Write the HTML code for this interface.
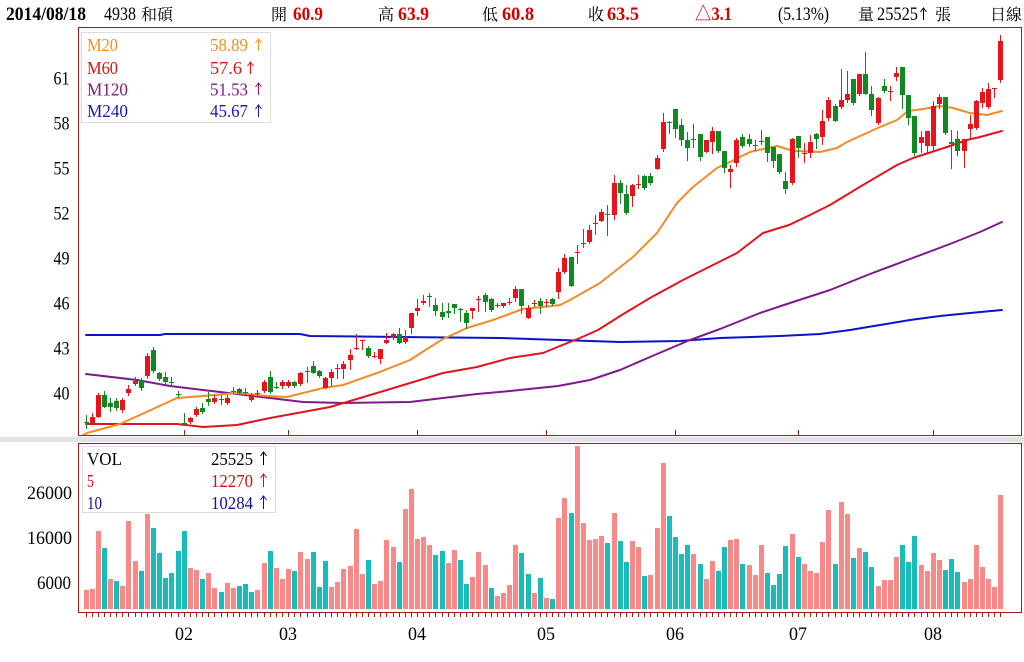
<!DOCTYPE html>
<html>
<head>
<meta charset="utf-8">
<style>
html,body{margin:0;padding:0;background:#fff;width:1024px;height:662px;overflow:hidden;}
svg{display:block;}
</style>
</head>
<body>
<svg width="1024" height="662" viewBox="0 0 1024 662" xmlns="http://www.w3.org/2000/svg" font-family="'Liberation Serif','Noto Serif CJK SC',serif">
<rect width="1024" height="662" fill="#fff"/>
<rect x="0" y="437" width="1024" height="5" fill="#e2e2e2"/>
<defs><clipPath id="cp"><rect x="79" y="28" width="942" height="407"/></clipPath></defs>

<!-- moving averages -->
<g clip-path="url(#cp)" fill="none" stroke-width="2" stroke-linejoin="round" stroke-linecap="round">
<polyline stroke="#0a14c8" points="86,335 160,335 165,334 300,334 310,336 400,337 500,338 560,340 620,342 680,341 720,338 780,336 820,334 850,330 880,325 910,320 940,316 970,313 1002,310"/>
<polyline stroke="#7d1a8c" points="86,374 137,380 170,386 203,390 237,394 270,398 303,402 343,403 410,402 443,398 477,394 510,391 558,386 590,380 620,370 650,357 690,340 720,329 760,313 790,303 830,290 870,274 910,259 950,244 980,232 1002,222"/>
<polyline stroke="#e0141e" points="86,424 177,424 203,427 237,425 270,418 303,412 330,407 377,393 410,383 443,373 477,367 510,358 543,353 560,346 580,338 598,330 625,313 650,298 683,280 717,263 737,253 763,233 789,225 810,215 830,205 863,185 897,165 913,158 947,147 967,140 980,137 1002,131"/>
<polyline stroke="#f08c28" points="78,438 87,433 120,424 153,409 177,398 203,396 237,393 267,396 287,397 303,393 323,388 343,385 377,373 410,360 427,349 443,339 467,328 493,320 523,309 543,307 560,305 570,300 600,283 633,257 657,233 677,203 693,187 717,168 730,162 750,152 777,146 790,150 797,151 820,152 837,148 847,142 880,127 897,120 908,111 923,109 940,106 953,108 970,113 987,115 1002,111"/>
</g>

<!-- candles: red -->
<g clip-path="url(#cp)">
<path fill="none" stroke="#e8141c" stroke-width="1" d="M92.5 413V425M98.5 393V418M122.5 398V413M128.5 385V396M135.5 377V386M147.5 353V379M190.5 417V424M196.5 407V417M214.5 395V404M227.5 395V405M251.5 393V402M257.5 390V396M264.5 380V393M282.5 380V389M288.5 380V388M300.5 372V386M307.5 367V383M325.5 377V389M331.5 369V386M337.5 364V379M343.5 361V379M350.5 349V370M356.5 334V350M362.5 340V350M374.5 352V358M380.5 349V364M386.5 333V344M393.5 333V340M405.5 330V344M411.5 313V334M417.5 299V316M423.5 295V305M472.5 308V319M478.5 296V312M497.5 303V308M503.5 303V308M509.5 298V305M515.5 286V302M528.5 305V319M534.5 300V307M546.5 299V307M558.5 268V299M564.5 254V274M577.5 245V264M589.5 225V244M595.5 215V235M601.5 209V222M614.5 175V220M632.5 184V207M638.5 175V189M657.5 155V170M663.5 113V152M693.5 124V148M706.5 140V153M712.5 127V154M730.5 165V188M736.5 138V167M792.5 138V185M804.5 143V163M810.5 135V158M822.5 110V145M828.5 97V121M841.5 69V109M847.5 71V103M859.5 74V96M878.5 97V125M890.5 86V101M896.5 67V81M921.5 131V153M927.5 131V153M933.5 101V151M939.5 94V109M964.5 139V168M970.5 115V139M976.5 100V130M982.5 88V108M988.5 83V109M994.5 88V98M1000.5 35V83"/>
<path fill="#e8141c" d="M90 417h5v7h-5zM96 395h5v22h-5zM120 400h5v10h-5zM126 389h5v4h-5zM133 381h5v3h-5zM145 356h5v20h-5zM188 418h5v4h-5zM194 409h5v6h-5zM212 398h5v4h-5zM225 398h5v5h-5zM249 395h5v5h-5zM255 393h5v1h-5zM262 382h5v9h-5zM280 382h5v4h-5zM286 382h5v4h-5zM298 373h5v11h-5zM305 371h5v1h-5zM323 378h5v10h-5zM329 372h5v6h-5zM335 368h5v1h-5zM341 364h5v5h-5zM348 355h5v5h-5zM354 348h5v1h-5zM360 340h5v1h-5zM372 356h5v1h-5zM378 349h5v10h-5zM384 340h5v3h-5zM391 334h5v4h-5zM403 337h5v5h-5zM409 313h5v15h-5zM415 308h5v3h-5zM421 301h5v2h-5zM470 308h5v3h-5zM476 299h5v1h-5zM495 305h5v1h-5zM501 303h5v3h-5zM507 302h5v1h-5zM513 289h5v9h-5zM526 308h5v10h-5zM532 303h5v1h-5zM544 302h5v1h-5zM556 272h5v20h-5zM562 258h5v14h-5zM575 252h5v1h-5zM587 230h5v12h-5zM593 223h5v1h-5zM599 212h5v9h-5zM612 183h5v32h-5zM630 185h5v11h-5zM636 184h5v1h-5zM655 158h5v11h-5zM661 122h5v27h-5zM691 139h5v1h-5zM704 140h5v12h-5zM710 131h5v11h-5zM728 169h5v3h-5zM734 140h5v23h-5zM790 139h5v44h-5zM802 153h5v1h-5zM808 142h5v11h-5zM820 121h5v16h-5zM826 100h5v18h-5zM839 100h5v7h-5zM845 94h5v6h-5zM857 74h5v20h-5zM876 98h5v25h-5zM888 91h5v1h-5zM894 73h5v4h-5zM919 137h5v6h-5zM925 131h5v15h-5zM931 106h5v40h-5zM937 97h5v7h-5zM962 139h5v12h-5zM968 124h5v5h-5zM974 101h5v27h-5zM980 92h5v11h-5zM986 89h5v18h-5zM992 88h5v1h-5zM998 41h5v39h-5z"/>
<!-- candles: green -->
<path fill="none" stroke="#108a20" stroke-width="1" d="M86.5 415V429M104.5 391V408M110.5 398V412M116.5 398V411M141.5 378V391M153.5 347V373M159.5 372V381M165.5 372V384M171.5 377V386M178.5 391V398M184.5 413V426M202.5 403V414M208.5 392V406M221.5 395V405M233.5 387V394M239.5 388V395M245.5 388V396M270.5 371V394M276.5 382V389M294.5 381V388M313.5 361V374M319.5 370V378M368.5 346V358M399.5 328V344M429.5 293V307M435.5 298V316M442.5 303V320M448.5 303V318M454.5 304V314M460.5 308V322M466.5 310V329M485.5 293V312M491.5 298V312M521.5 289V314M540.5 298V314M552.5 298V306M571.5 257V287M583.5 229V248M607.5 205V236M620.5 180V204M626.5 185V215M644.5 175V190M650.5 173V185M669.5 121V134M675.5 109V138M681.5 119V146M687.5 132V161M700.5 134V161M718.5 131V153M724.5 151V173M742.5 134V148M749.5 134V147M755.5 140V151M761.5 130V145M767.5 137V162M773.5 147V168M779.5 154V174M785.5 172V194M798.5 136V158M816.5 133V149M835.5 104V122M853.5 79V105M865.5 52V95M871.5 86V116M884.5 79V93M902.5 67V109M908.5 95V125M914.5 116V156M945.5 97V135M951.5 130V169M957.5 131V156"/>
<path fill="#108a20" d="M84 422h5v1h-5zM102 395h5v12h-5zM108 403h5v4h-5zM114 401h5v7h-5zM139 380h5v8h-5zM151 350h5v21h-5zM157 373h5v6h-5zM163 377h5v5h-5zM169 382h5v1h-5zM176 394h5v1h-5zM182 423h5v1h-5zM200 408h5v4h-5zM206 399h5v3h-5zM219 399h5v1h-5zM231 391h5v1h-5zM237 389h5v4h-5zM243 392h5v1h-5zM268 377h5v15h-5zM274 387h5v1h-5zM292 382h5v4h-5zM311 366h5v7h-5zM317 371h5v5h-5zM366 348h5v8h-5zM397 334h5v9h-5zM427 296h5v1h-5zM433 305h5v6h-5zM440 312h5v5h-5zM446 311h5v2h-5zM452 304h5v4h-5zM458 309h5v1h-5zM464 313h5v10h-5zM483 295h5v7h-5zM489 299h5v11h-5zM519 289h5v17h-5zM538 301h5v5h-5zM550 299h5v5h-5zM569 257h5v29h-5zM581 243h5v1h-5zM605 214h5v1h-5zM618 183h5v10h-5zM624 194h5v19h-5zM642 176h5v12h-5zM648 176h5v7h-5zM667 122h5v1h-5zM673 109h5v20h-5zM679 125h5v15h-5zM685 140h5v8h-5zM698 134h5v23h-5zM716 131h5v20h-5zM722 151h5v17h-5zM740 137h5v9h-5zM747 139h5v5h-5zM753 145h5v1h-5zM759 141h5v1h-5zM765 137h5v16h-5zM771 147h5v14h-5zM777 154h5v18h-5zM783 181h5v8h-5zM796 136h5v12h-5zM814 134h5v5h-5zM833 106h5v15h-5zM851 79h5v24h-5zM863 74h5v20h-5zM869 94h5v16h-5zM882 86h5v5h-5zM900 67h5v28h-5zM906 95h5v23h-5zM912 116h5v37h-5zM943 97h5v36h-5zM949 142h5v2h-5zM955 139h5v12h-5z"/>
</g>

<!-- frames -->
<rect x="78.5" y="27.5" width="943" height="408" fill="none" stroke="#a31a1a"/>
<rect x="78.5" y="443.5" width="943" height="169" fill="none" stroke="#a31a1a"/>
<path fill="none" stroke="#a31a1a" stroke-width="1" d="M184.5 430V435M288.5 430V435M417.5 430V435M546.5 430V435M675.5 430V435M798.5 430V435M933.5 430V435"/>

<!-- main legend -->
<rect x="81.5" y="32.5" width="189" height="90" fill="#fff" stroke="#dcdcdc"/>
<g font-size="18">
<text x="87" y="51" fill="#f0901e" textLength="31" lengthAdjust="spacingAndGlyphs">M20</text>
<text x="210" y="51" fill="#f0901e" textLength="38" lengthAdjust="spacingAndGlyphs">58.89</text>
<text x="87" y="74" fill="#e01010" textLength="31" lengthAdjust="spacingAndGlyphs">M60</text>
<text x="210" y="74" fill="#e01010" textLength="32" lengthAdjust="spacingAndGlyphs">57.6</text>
<text x="87" y="95.5" fill="#801880" textLength="41" lengthAdjust="spacingAndGlyphs">M120</text>
<text x="210" y="95.5" fill="#801880" textLength="38" lengthAdjust="spacingAndGlyphs">51.53</text>
<text x="87" y="117" fill="#1818b0" textLength="41" lengthAdjust="spacingAndGlyphs">M240</text>
<text x="210" y="117" fill="#1818b0" textLength="38" lengthAdjust="spacingAndGlyphs">45.67</text>
</g>
<g fill="none" stroke-width="1">
<path stroke="#f0901e" d="M258.5,39 V51 M255.5,43 L258.5,39 L261.5,43"/>
<path stroke="#e01010" d="M250.5,62 V74 M247.5,66 L250.5,62 L253.5,66"/>
<path stroke="#801880" d="M258.5,83 V95 M255.5,87 L258.5,83 L261.5,87"/>
<path stroke="#1818b0" d="M258.5,105 V117 M255.5,109 L258.5,105 L261.5,109"/>
</g>

<!-- volume bars: pink -->
<path fill="#f98888" d="M84 590h5V609h-5zM90 589h5V609h-5zM96 531h5V609h-5zM108 579h5V609h-5zM120 586h5V609h-5zM126 521h5V609h-5zM133 561h5V609h-5zM145 514h5V609h-5zM188 568h5V609h-5zM194 570h5V609h-5zM206 573h5V609h-5zM212 588h5V609h-5zM225 583h5V609h-5zM231 588h5V609h-5zM255 590h5V609h-5zM262 563h5V609h-5zM274 568h5V609h-5zM280 579h5V609h-5zM286 569h5V609h-5zM298 552h5V609h-5zM305 559h5V609h-5zM329 587h5V609h-5zM335 582h5V609h-5zM341 569h5V609h-5zM348 566h5V609h-5zM354 529h5V609h-5zM360 574h5V609h-5zM372 584h5V609h-5zM378 581h5V609h-5zM384 540h5V609h-5zM391 547h5V609h-5zM403 509h5V609h-5zM409 489h5V609h-5zM415 539h5V609h-5zM421 537h5V609h-5zM427 545h5V609h-5zM446 563h5V609h-5zM452 550h5V609h-5zM470 577h5V609h-5zM476 552h5V609h-5zM483 565h5V609h-5zM495 596h5V609h-5zM501 593h5V609h-5zM507 585h5V609h-5zM513 545h5V609h-5zM532 593h5V609h-5zM544 598h5V609h-5zM556 518h5V609h-5zM562 498h5V609h-5zM575 446h5V609h-5zM581 523h5V609h-5zM587 540h5V609h-5zM593 539h5V609h-5zM599 536h5V609h-5zM612 513h5V609h-5zM630 541h5V609h-5zM636 547h5V609h-5zM648 575h5V609h-5zM655 528h5V609h-5zM661 463h5V609h-5zM691 554h5V609h-5zM704 579h5V609h-5zM710 561h5V609h-5zM728 540h5V609h-5zM734 539h5V609h-5zM747 565h5V609h-5zM753 575h5V609h-5zM759 545h5V609h-5zM790 534h5V609h-5zM802 564h5V609h-5zM808 571h5V609h-5zM814 573h5V609h-5zM820 542h5V609h-5zM826 510h5V609h-5zM839 502h5V609h-5zM845 514h5V609h-5zM857 548h5V609h-5zM876 586h5V609h-5zM882 580h5V609h-5zM888 580h5V609h-5zM894 557h5V609h-5zM919 565h5V609h-5zM925 571h5V609h-5zM931 553h5V609h-5zM937 560h5V609h-5zM962 582h5V609h-5zM968 579h5V609h-5zM974 545h5V609h-5zM980 567h5V609h-5zM986 579h5V609h-5zM992 587h5V609h-5zM998 495h5V609h-5z"/>
<!-- volume bars: teal -->
<path fill="#18bcb8" d="M102 548h5V609h-5zM114 581h5V609h-5zM139 571h5V609h-5zM151 528h5V609h-5zM157 553h5V609h-5zM163 578h5V609h-5zM169 573h5V609h-5zM176 551h5V609h-5zM182 531h5V609h-5zM200 579h5V609h-5zM219 592h5V609h-5zM237 586h5V609h-5zM243 584h5V609h-5zM249 592h5V609h-5zM268 551h5V609h-5zM292 571h5V609h-5zM311 552h5V609h-5zM317 587h5V609h-5zM323 561h5V609h-5zM366 560h5V609h-5zM397 562h5V609h-5zM433 555h5V609h-5zM440 551h5V609h-5zM458 560h5V609h-5zM464 584h5V609h-5zM489 588h5V609h-5zM519 553h5V609h-5zM526 574h5V609h-5zM538 578h5V609h-5zM550 599h5V609h-5zM569 513h5V609h-5zM605 543h5V609h-5zM618 541h5V609h-5zM624 562h5V609h-5zM642 576h5V609h-5zM667 516h5V609h-5zM673 537h5V609h-5zM679 554h5V609h-5zM685 545h5V609h-5zM698 564h5V609h-5zM716 571h5V609h-5zM722 547h5V609h-5zM740 564h5V609h-5zM765 573h5V609h-5zM771 585h5V609h-5zM777 574h5V609h-5zM783 546h5V609h-5zM796 557h5V609h-5zM833 564h5V609h-5zM851 558h5V609h-5zM863 552h5V609h-5zM869 567h5V609h-5zM900 545h5V609h-5zM906 562h5V609h-5zM912 536h5V609h-5zM943 570h5V609h-5zM949 559h5V609h-5zM955 572h5V609h-5z"/>
<!-- small ticks under volume -->
<path fill="none" stroke="#a31a1a" stroke-width="1" d="M86.5 613v4M92.5 613v4M98.5 613v4M104.5 613v4M110.5 613v4M116.5 613v4M122.5 613v4M128.5 613v4M135.5 613v4M141.5 613v4M147.5 613v4M153.5 613v4M159.5 613v4M165.5 613v4M171.5 613v4M178.5 613v4M184.5 613v4M190.5 613v4M196.5 613v4M202.5 613v4M208.5 613v4M214.5 613v4M221.5 613v4M227.5 613v4M233.5 613v4M239.5 613v4M245.5 613v4M251.5 613v4M257.5 613v4M264.5 613v4M270.5 613v4M276.5 613v4M282.5 613v4M288.5 613v4M294.5 613v4M300.5 613v4M307.5 613v4M313.5 613v4M319.5 613v4M325.5 613v4M331.5 613v4M337.5 613v4M343.5 613v4M350.5 613v4M356.5 613v4M362.5 613v4M368.5 613v4M374.5 613v4M380.5 613v4M386.5 613v4M393.5 613v4M399.5 613v4M405.5 613v4M411.5 613v4M417.5 613v4M423.5 613v4M429.5 613v4M435.5 613v4M442.5 613v4M448.5 613v4M454.5 613v4M460.5 613v4M466.5 613v4M472.5 613v4M478.5 613v4M485.5 613v4M491.5 613v4M497.5 613v4M503.5 613v4M509.5 613v4M515.5 613v4M521.5 613v4M528.5 613v4M534.5 613v4M540.5 613v4M546.5 613v4M552.5 613v4M558.5 613v4M564.5 613v4M571.5 613v4M577.5 613v4M583.5 613v4M589.5 613v4M595.5 613v4M601.5 613v4M607.5 613v4M614.5 613v4M620.5 613v4M626.5 613v4M632.5 613v4M638.5 613v4M644.5 613v4M650.5 613v4M657.5 613v4M663.5 613v4M669.5 613v4M675.5 613v4M681.5 613v4M687.5 613v4M693.5 613v4M700.5 613v4M706.5 613v4M712.5 613v4M718.5 613v4M724.5 613v4M730.5 613v4M736.5 613v4M742.5 613v4M749.5 613v4M755.5 613v4M761.5 613v4M767.5 613v4M773.5 613v4M779.5 613v4M785.5 613v4M792.5 613v4M798.5 613v4M804.5 613v4M810.5 613v4M816.5 613v4M822.5 613v4M828.5 613v4M835.5 613v4M841.5 613v4M847.5 613v4M853.5 613v4M859.5 613v4M865.5 613v4M871.5 613v4M878.5 613v4M884.5 613v4M890.5 613v4M896.5 613v4M902.5 613v4M908.5 613v4M914.5 613v4M921.5 613v4M927.5 613v4M933.5 613v4M939.5 613v4M945.5 613v4M951.5 613v4M957.5 613v4M964.5 613v4M970.5 613v4M976.5 613v4M982.5 613v4M988.5 613v4M994.5 613v4M1000.5 613v4"/>

<!-- volume legend -->
<rect x="82.5" y="446.5" width="193" height="66" fill="#fff" stroke="#dcdcdc"/>
<g font-size="18">
<text x="87" y="465" fill="#000" textLength="35" lengthAdjust="spacingAndGlyphs">VOL</text>
<text x="211" y="465" fill="#000" textLength="42" lengthAdjust="spacingAndGlyphs">25525</text>
<text x="87" y="487" fill="#d01010" textLength="7" lengthAdjust="spacingAndGlyphs">5</text>
<text x="211" y="487" fill="#d01010" textLength="42" lengthAdjust="spacingAndGlyphs">12270</text>
<text x="87" y="509" fill="#1010a0" textLength="15" lengthAdjust="spacingAndGlyphs">10</text>
<text x="211" y="509" fill="#1010a0" textLength="42" lengthAdjust="spacingAndGlyphs">10284</text>
</g>
<g fill="none" stroke-width="1">
<path stroke="#000" d="M263.5,452 V465 M260.5,456 L263.5,452 L266.5,456"/>
<path stroke="#d01010" d="M263.5,474 V487 M260.5,478 L263.5,474 L266.5,478"/>
<path stroke="#1010a0" d="M263.5,496 V509 M260.5,500 L263.5,496 L266.5,500"/>
</g>

<!-- y axis labels -->
<g font-size="19" fill="#000">
<text x="53.5" y="84.5" textLength="16" lengthAdjust="spacingAndGlyphs">61</text>
<text x="53.5" y="129.5" textLength="16" lengthAdjust="spacingAndGlyphs">58</text>
<text x="53.5" y="174.5" textLength="16" lengthAdjust="spacingAndGlyphs">55</text>
<text x="53.5" y="219.5" textLength="16" lengthAdjust="spacingAndGlyphs">52</text>
<text x="53.5" y="264.5" textLength="16" lengthAdjust="spacingAndGlyphs">49</text>
<text x="53.5" y="309.5" textLength="16" lengthAdjust="spacingAndGlyphs">46</text>
<text x="53.5" y="354.5" textLength="16" lengthAdjust="spacingAndGlyphs">43</text>
<text x="53.5" y="399.5" textLength="16" lengthAdjust="spacingAndGlyphs">40</text>
<text x="27" y="499" textLength="45" lengthAdjust="spacingAndGlyphs">26000</text>
<text x="27" y="544" textLength="45" lengthAdjust="spacingAndGlyphs">16000</text>
<text x="37" y="589" textLength="34" lengthAdjust="spacingAndGlyphs">6000</text>
</g>

<!-- month labels -->
<g font-size="19" fill="#000">
<text x="175" y="640" textLength="18" lengthAdjust="spacingAndGlyphs">02</text>
<text x="279" y="640" textLength="18" lengthAdjust="spacingAndGlyphs">03</text>
<text x="408" y="640" textLength="18" lengthAdjust="spacingAndGlyphs">04</text>
<text x="537" y="640" textLength="18" lengthAdjust="spacingAndGlyphs">05</text>
<text x="666" y="640" textLength="18" lengthAdjust="spacingAndGlyphs">06</text>
<text x="789" y="640" textLength="18" lengthAdjust="spacingAndGlyphs">07</text>
<text x="924" y="640" textLength="18" lengthAdjust="spacingAndGlyphs">08</text>
</g>

<!-- header -->
<g font-size="19" fill="#000">
<text x="6" y="20" font-weight="bold" textLength="80" lengthAdjust="spacingAndGlyphs">2014/08/18</text>
<text x="104" y="20" textLength="32" lengthAdjust="spacingAndGlyphs">4938</text>
<text x="141" y="20" font-size="16">和碩</text>
<text x="271" y="20" font-size="16">開</text>
<text x="293" y="20" fill="#d40000" font-weight="bold" textLength="30" lengthAdjust="spacingAndGlyphs">60.9</text>
<text x="378" y="20" font-size="16">高</text>
<text x="398" y="20" fill="#d40000" font-weight="bold" textLength="31" lengthAdjust="spacingAndGlyphs">63.9</text>
<text x="482" y="20" font-size="16">低</text>
<text x="502" y="20" fill="#d40000" font-weight="bold" textLength="32" lengthAdjust="spacingAndGlyphs">60.8</text>
<text x="588" y="20" font-size="16">收</text>
<text x="607" y="20" fill="#d40000" font-weight="bold" textLength="32" lengthAdjust="spacingAndGlyphs">63.5</text>
<text x="695" y="20" fill="#d40000" font-weight="bold" textLength="37" lengthAdjust="spacingAndGlyphs">△3.1</text>
<text x="778" y="20" textLength="51" lengthAdjust="spacingAndGlyphs">(5.13%)</text>
<text x="858" y="20" font-size="16">量</text>
<text x="877" y="20" textLength="41" lengthAdjust="spacingAndGlyphs">25525</text>
<text x="935" y="20" font-size="16">張</text>
<text x="990" y="20" font-size="16">日線</text>
</g>
<path fill="none" stroke="#000" d="M923.5,8 V20 M920.5,12 L923.5,8 L926.5,12"/>
</svg>
</body>
</html>
